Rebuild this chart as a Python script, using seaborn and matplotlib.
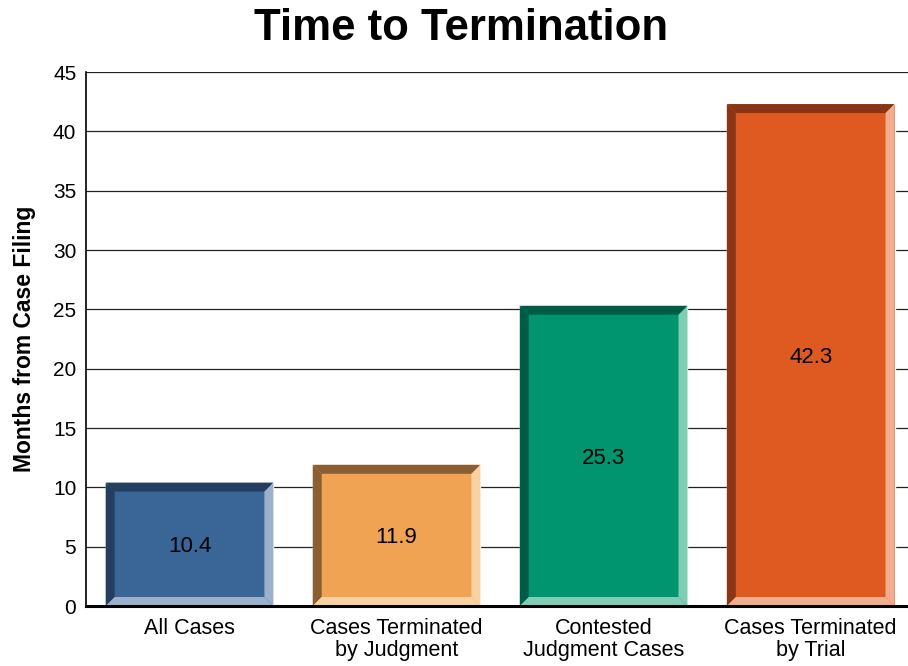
import matplotlib
matplotlib.use("Agg")
import matplotlib.pyplot as plt
import seaborn as sns
import pandas as pd
from matplotlib.patches import Polygon

categories = ["All Cases", "Cases Terminated\nby Judgment", "Contested\nJudgment Cases", "Cases Terminated\nby Trial"]
values = [10.4, 11.9, 25.3, 42.3]
face_colors = ["#3A6597", "#F0A352", "#00956F", "#DE5A21"]
dark_colors = ["#243E5F", "#8C5E33", "#005D45", "#8A3515"]
light_colors = ["#9BB0CB", "#F9D2A4", "#7FCDB5", "#F2AD8F"]
yticks = [0, 5, 10, 15, 20, 25, 30, 35, 40, 45]

sns.set_theme(style="white")
plt.rcParams['font.family'] = ['Liberation Sans', 'DejaVu Sans']
plt.rcParams['text.color'] = 'black'

fig = plt.figure(figsize=(9.08, 6.66), dpi=100)
ax = fig.add_axes([86/908, 60/666, 822/908, 534/666])

df = pd.DataFrame({"cat": categories, "val": values})
sns.barplot(data=df, x="cat", y="val", hue="cat", palette=face_colors, legend=False,
            width=0.81, ax=ax, saturation=1, zorder=3)

ax.set_ylim(0, 45)
ax.set_xlim(-0.5, 3.47)
ax.set_yticks(yticks)
ax.yaxis.grid(True, color="#222222", linewidth=0.9, zorder=0)
ax.set_axisbelow(True)
for s in ["top", "right"]:
    ax.spines[s].set_visible(False)
ax.spines["left"].set_color("black")
ax.spines["left"].set_linewidth(1.2)
ax.spines["bottom"].set_color("black")
ax.spines["bottom"].set_linewidth(2.2)
ax.spines["bottom"].set_zorder(10)
ax.tick_params(axis="y", labelsize=15, length=0, pad=7, colors="black")
ax.tick_params(axis="x", labelsize=15.5, length=0, pad=9, colors="black")
for lbl in ax.get_xticklabels():
    lbl.set_linespacing(1.05)
ax.set_xlabel("")
ax.set_ylabel("Months from Case Filing", fontsize=16.5, fontweight="bold", labelpad=12, color="black")
fig.suptitle("Time to Termination", fontsize=31.5, fontweight="bold", y=0.988, x=0.508, color="black")

fig.canvas.draw()
bev = 9  # bevel width in pixels
inv = ax.transData.inverted()
for i, p in enumerate(ax.patches):
    x0, y0 = p.get_x(), p.get_y()
    x1, y1 = x0 + p.get_width(), y0 + p.get_height()
    (px0, py0) = ax.transData.transform((x0, y0))
    (px1, py1) = ax.transData.transform((x1, y1))
    def d(px, py):
        return inv.transform((px, py))
    outer = [d(px0, py0), d(px1, py0), d(px1, py1), d(px0, py1)]
    inner = [d(px0 + bev, py0 + bev), d(px1 - bev, py0 + bev), d(px1 - bev, py1 - bev), d(px0 + bev, py1 - bev)]
    ax.add_patch(Polygon([outer[3], outer[2], inner[2], inner[3]], closed=True, color=dark_colors[i], zorder=4, lw=0))
    ax.add_patch(Polygon([outer[0], outer[3], inner[3], inner[0]], closed=True, color=dark_colors[i], zorder=4, lw=0))
    ax.add_patch(Polygon([outer[1], outer[2], inner[2], inner[1]], closed=True, color=light_colors[i], zorder=4, lw=0))
    ax.add_patch(Polygon([outer[0], outer[1], inner[1], inner[0]], closed=True, color=light_colors[i], zorder=4, lw=0))
    ax.text(x0 + p.get_width() / 2, values[i] / 2, f"{values[i]:.1f}", ha="center", va="center_baseline",
            fontsize=16, color="black", zorder=6)

fig.savefig("out.png", dpi=100)
